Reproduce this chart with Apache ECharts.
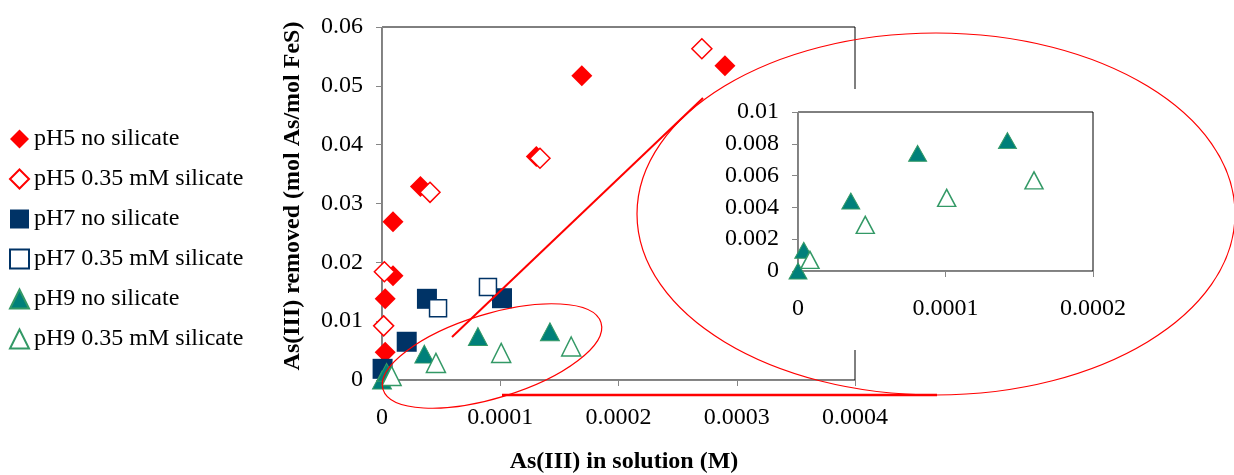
<!DOCTYPE html>
<html>
<head>
<meta charset="utf-8">
<script src="https://cdn.jsdelivr.net/npm/echarts@6/dist/echarts.min.js"></script>
<style>
html,body{margin:0;padding:0;background:#fff;}
#c{width:1234px;height:475px;}
</style>
</head>
<body>
<div id="c"></div>
<script>
// ---- data ----
const seriesNames = ['pH5 no silicate', 'pH5 0.35 mM silicate', 'pH7 no silicate',
                     'pH7 0.35 mM silicate', 'pH9 no silicate', 'pH9 0.35 mM silicate'];
const pH5NoX = [0.0000027, 0.0000027, 0.0000093, 0.0000093, 0.0000325, 0.0001305, 0.000169, 0.00029];
const pH5NoY = [0.0047, 0.0138, 0.0177, 0.0269, 0.0329, 0.038, 0.0517, 0.0534];
const pH5SiX = [0.0000014, 0.000002, 0.0000406, 0.0001336, 0.0002705];
const pH5SiY = [0.0092, 0.0184, 0.0319, 0.0377, 0.0563];
const pH7NoX = [0.0000005, 0.0000209, 0.000038, 0.0001015];
const pH7NoY = [0.0019, 0.0065, 0.0138, 0.0139];
const pH7SiX = [0.0000474, 0.0000896];
const pH7SiY = [0.0122, 0.0158];
const pH9NoX = [0, 0.0000039, 0.0000358, 0.0000811, 0.000142];
const pH9NoY = [0, 0.0013, 0.0044, 0.0074, 0.0082];
const pH9SiX = [0.0000081, 0.0000456, 0.0001008, 0.00016];
const pH9SiY = [0.0007, 0.0029, 0.0046, 0.0057];

// axis ranges / tick steps
const mainX = {min: 0, max: 0.0004, interval: 0.0001};
const mainY = {min: 0, max: 0.06, interval: 0.01};
const insetX = {min: 0, max: 0.0002, interval: 0.0001};
const insetY = {min: 0, max: 0.01, interval: 0.002};

const xTitle = 'As(III) in solution (M)';
const yTitle = 'As(III) removed (mol As/mol FeS)';

// ---- styling ----
const FONT = "'Liberation Serif','Times New Roman',serif";
const FS = 24;
const RED = '#FF0000', NAVY = '#003366', TEAL = '#00807A', GREEN = '#339966', GREY = '#868686';

const pair = (xs, ys) => xs.map((x, i) => [x, ys[i]]);
const fmt = v => String(+(+v).toFixed(6));

function axis(gridIndex, r, margin, z) {
  return {
    type: 'value', gridIndex, min: r.min, max: r.max, interval: r.interval, z,
    axisLine: {show: true, lineStyle: {color: GREY, width: 1}},
    axisTick: {show: true, length: 6, lineStyle: {color: GREY, width: 1}},
    splitLine: {show: false},
    axisLabel: {margin, color: '#000', fontFamily: FONT, fontSize: FS, formatter: fmt}
  };
}

const styles = [
  {symbol: 'diamond', symbolSize: 21, itemStyle: {color: RED, opacity: 1}},
  {symbol: 'diamond', symbolSize: 20, itemStyle: {color: '#fff', borderColor: RED, borderWidth: 1.5, opacity: 1}},
  {symbol: 'rect', symbolSize: 20, itemStyle: {color: NAVY, opacity: 1}},
  {symbol: 'rect', symbolSize: 17, itemStyle: {color: '#fff', borderColor: NAVY, borderWidth: 1.5, opacity: 1}},
  {symbol: 'triangle', symbolSize: [19, 18], itemStyle: {color: TEAL, borderColor: GREEN, borderWidth: 1, opacity: 1}},
  {symbol: 'triangle', symbolSize: [19, 19], itemStyle: {color: '#fff', borderColor: GREEN, borderWidth: 1.5, opacity: 1}}
];
const mainData = [pair(pH5NoX, pH5NoY), pair(pH5SiX, pH5SiY), pair(pH7NoX, pH7NoY),
                  pair(pH7SiX, pH7SiY), pair(pH9NoX, pH9NoY), pair(pH9SiX, pH9SiY)];

const series = mainData.map((d, i) => Object.assign({
  name: seriesNames[i], type: 'scatter', xAxisIndex: 0, yAxisIndex: 0,
  data: d, clip: false, z: 2, emphasis: {disabled: true}
}, styles[i]));

// inset: pH9 series only
[4, 5].forEach(i => {
  series.push(Object.assign({}, styles[i], {
    name: seriesNames[i], type: 'scatter', xAxisIndex: 1, yAxisIndex: 1,
    data: mainData[i], clip: false, z: 21, emphasis: {disabled: true},
    symbolSize: i === 4 ? [18, 16] : [18, 17]
  }));
});

const chart = echarts.init(document.getElementById('c'));
chart.setOption({
  animation: false,
  backgroundColor: '#fff',
  textStyle: {fontFamily: FONT},
  legend: {
    orient: 'vertical', left: 4, top: 122,
    itemWidth: 19, itemHeight: 19, itemGap: 16,
    data: seriesNames,
    textStyle: {fontFamily: FONT, fontSize: FS, lineHeight: 24, color: '#000'}
  },
  grid: [
    {left: 382, top: 27, width: 473, height: 353, show: true, borderColor: '#000', borderWidth: 1,
     backgroundColor: 'transparent', containLabel: false},
    {left: 798, top: 112, width: 295, height: 159, show: true, borderColor: '#000', borderWidth: 1,
     backgroundColor: '#fff', containLabel: false, z: 20}
  ],
  xAxis: [axis(0, mainX, 26, 0), axis(1, insetX, 26, 20)],
  yAxis: [axis(0, mainY, 19, 0), axis(1, insetY, 19, 20)],
  series,
  graphic: [
    {type: 'rect', silent: true, z: 10, shape: {x: 720, y: 89, width: 420, height: 261}, style: {fill: '#fff'}},
    {type: 'ellipse', silent: true, z: 11, shape: {cx: 936, cy: 214, rx: 299, ry: 181},
     style: {fill: 'none', stroke: RED, lineWidth: 1.2}},
    {type: 'line', silent: true, z: 5, shape: {x1: 452, y1: 337, x2: 703, y2: 98},
     style: {stroke: RED, lineWidth: 2}},
    {type: 'ellipse', silent: true, z: 5, x: 492, y: 356, rotation: 0.297,
     shape: {cx: 0, cy: 0, rx: 114, ry: 42}, style: {fill: 'none', stroke: RED, lineWidth: 1.2}},
    {type: 'line', silent: true, z: 5, shape: {x1: 502, y1: 395, x2: 937, y2: 395},
     style: {stroke: RED, lineWidth: 2.5}},
    {type: 'text', silent: true, z: 5, x: 293, y: 196, rotation: Math.PI / 2,
     style: {text: yTitle, fontFamily: FONT, fontSize: FS, fontWeight: 'bold', fill: '#000',
             align: 'center', verticalAlign: 'middle', textAlign: 'center', textVerticalAlign: 'middle'}},
    {type: 'text', silent: true, z: 5, x: 624, y: 462,
     style: {text: xTitle, fontFamily: FONT, fontSize: FS, fontWeight: 'bold', fill: '#000',
             align: 'center', verticalAlign: 'middle', textAlign: 'center', textVerticalAlign: 'middle'}}
  ]
});
</script>
</body>
</html>
